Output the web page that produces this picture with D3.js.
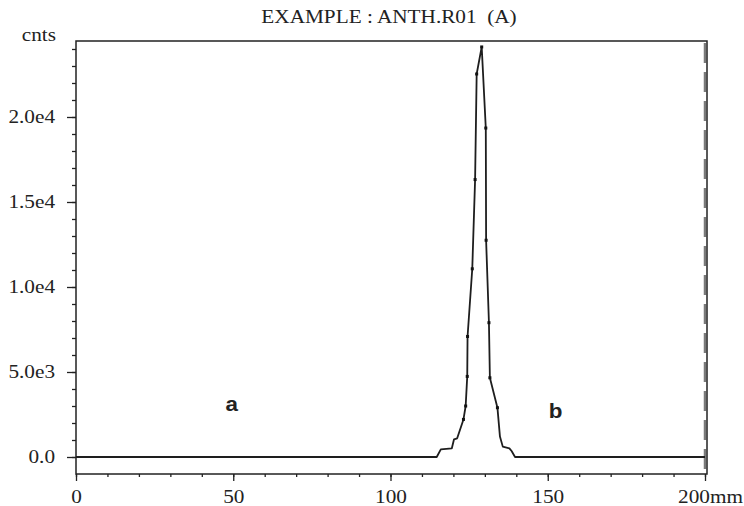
<!DOCTYPE html>
<html>
<head>
<meta charset="utf-8">
<script src="https://cdn.jsdelivr.net/npm/d3@7"></script>
<style>
  body { margin: 0; background: #fff; }
  svg text { white-space: pre; }
</style>
</head>
<body>
<div id="chart"></div>
<script>
// Trace values (position in mm, counts)
const positions = [0, 114.7, 116.0, 119.5, 120.2, 121.2, 123.2, 123.9, 124.4, 124.5, 126.0, 126.9, 127.4, 129.0, 130.3, 130.4, 131.3, 131.6, 134.0, 134.8, 135.7, 137.8, 138.5, 139.6, 200];
const counts = [0, 0, 450, 510, 1040, 1100, 2210, 3000, 4740, 7090, 11070, 16320, 22530, 24120, 19350, 12750, 7900, 4660, 2900, 1200, 610, 510, 350, 0, 0];
// points drawn with a small dot marker
const markedIdx = [6, 7, 8, 9, 10, 11, 12, 13, 14, 15, 16, 17, 18];

const yMajorTicks = [0, 5000, 10000, 15000, 20000];
const yTickLabels = ['0.0', '5.0e3', '1.0e4', '1.5e4', '2.0e4'];
const xMajorTicks = [0, 50, 100, 150, 200];
const xTickLabels = ['0', '50', '100', '150', '200mm'];

const title = 'EXAMPLE : ANTH.R01  (A)';
const yUnit = 'cnts';
const annotations = [
  { text: 'a', x: 47.5, y: 2720 },
  { text: 'b', x: 150.3, y: 2290 }
];

const width = 744;
const height = 506;
const frame = { left: 76, top: 41, right: 707, bottom: 474 };
const sx = 1.18; // reference text is slightly stretched horizontally
const serif = '"Liberation Serif", "Times New Roman", serif';

const svg = d3.select('#chart')
  .append('svg')
  .attr('width', width)
  .attr('height', height);

const xScale = d3.scaleLinear()
  .domain([0, 200])
  .range([frame.left, 705]);

const yScale = d3.scaleLinear()
  .domain([-1000, 24470])
  .range([frame.bottom, frame.top]);

// title
svg.append('text')
  .attr('transform', `translate(389, 23) scale(${sx},1)`)
  .attr('text-anchor', 'middle')
  .style('font-family', serif)
  .style('font-size', '18px')
  .style('fill', '#222')
  .text(title);

// unit label above the y axis
svg.append('text')
  .attr('transform', `translate(56, 41) scale(${sx},1)`)
  .attr('text-anchor', 'end')
  .style('font-family', serif)
  .style('font-size', '18px')
  .style('fill', '#222')
  .text(yUnit);

// minor y ticks
svg.append('g')
  .attr('transform', `translate(${frame.left},0)`)
  .call(d3.axisLeft(yScale).tickValues(d3.range(0, 24001, 1000)).tickSize(4).tickFormat(''))
  .call(g => g.select('.domain').remove());

// major y ticks with labels
const yAxis = svg.append('g')
  .attr('transform', `translate(${frame.left},0)`)
  .call(d3.axisLeft(yScale).tickValues(yMajorTicks).tickSize(9)
    .tickFormat((d, i) => yTickLabels[i]));
yAxis.select('.domain').remove();
yAxis.selectAll('text')
  .attr('x', -21 / sx)
  .attr('transform', `scale(${sx},1)`)
  .style('font-family', serif)
  .style('font-size', '18px');

// minor x ticks
svg.append('g')
  .attr('transform', `translate(0,${frame.bottom})`)
  .call(d3.axisBottom(xScale).tickValues(d3.range(0, 201, 10)).tickSize(3).tickFormat(''))
  .call(g => g.select('.domain').remove());

// major x ticks with labels
const xAxis = svg.append('g')
  .attr('transform', `translate(0,${frame.bottom})`)
  .call(d3.axisBottom(xScale).tickValues(xMajorTicks).tickSize(7)
    .tickFormat((d, i) => xTickLabels[i]));
xAxis.select('.domain').remove();
xAxis.selectAll('text')
  .attr('y', 29)
  .attr('dy', 0)
  .attr('x', d => d === 200 ? 5 / sx : 0)
  .attr('transform', `scale(${sx},1)`)
  .style('font-family', serif)
  .style('font-size', '18px');

svg.selectAll('.tick line').attr('stroke', '#222').attr('stroke-width', 1.3);
svg.selectAll('.tick text').style('fill', '#222');

// dashed marker at the end of the scan
svg.append('line')
  .attr('x1', xScale(200))
  .attr('x2', xScale(200))
  .attr('y1', frame.top + 2)
  .attr('y2', frame.bottom)
  .attr('stroke', '#7a7a7a')
  .attr('stroke-width', 2.5)
  .attr('stroke-dasharray', '20,9');

// plot frame
svg.append('rect')
  .attr('x', frame.left)
  .attr('y', frame.top)
  .attr('width', frame.right - frame.left)
  .attr('height', frame.bottom - frame.top)
  .attr('fill', 'none')
  .attr('stroke', '#222')
  .attr('stroke-width', 1.5);

// trace
const data = positions.map((p, i) => ({ x: p, y: counts[i] }));
const line = d3.line()
  .x(d => xScale(d.x))
  .y(d => yScale(d.y));

svg.append('path')
  .datum(data)
  .attr('d', line)
  .attr('fill', 'none')
  .attr('stroke', '#1e1e1e')
  .attr('stroke-width', 1.8)
  .attr('stroke-linejoin', 'round');

svg.selectAll('rect.marker')
  .data(markedIdx.map(i => data[i]))
  .enter()
  .append('rect')
  .attr('class', 'marker')
  .attr('x', d => xScale(d.x) - 1.5)
  .attr('y', d => yScale(d.y) - 1.5)
  .attr('width', 3)
  .attr('height', 3)
  .attr('fill', '#111');

// peak annotations
svg.selectAll('text.note')
  .data(annotations)
  .enter()
  .append('text')
  .attr('class', 'note')
  .attr('transform', d => `translate(${xScale(d.x)},${yScale(d.y)}) scale(1.12,1)`)
  .style('font-family', '"Liberation Sans", Arial, sans-serif')
  .style('font-weight', 'bold')
  .style('font-size', '20px')
  .style('fill', '#222')
  .text(d => d.text);
</script>
</body>
</html>
